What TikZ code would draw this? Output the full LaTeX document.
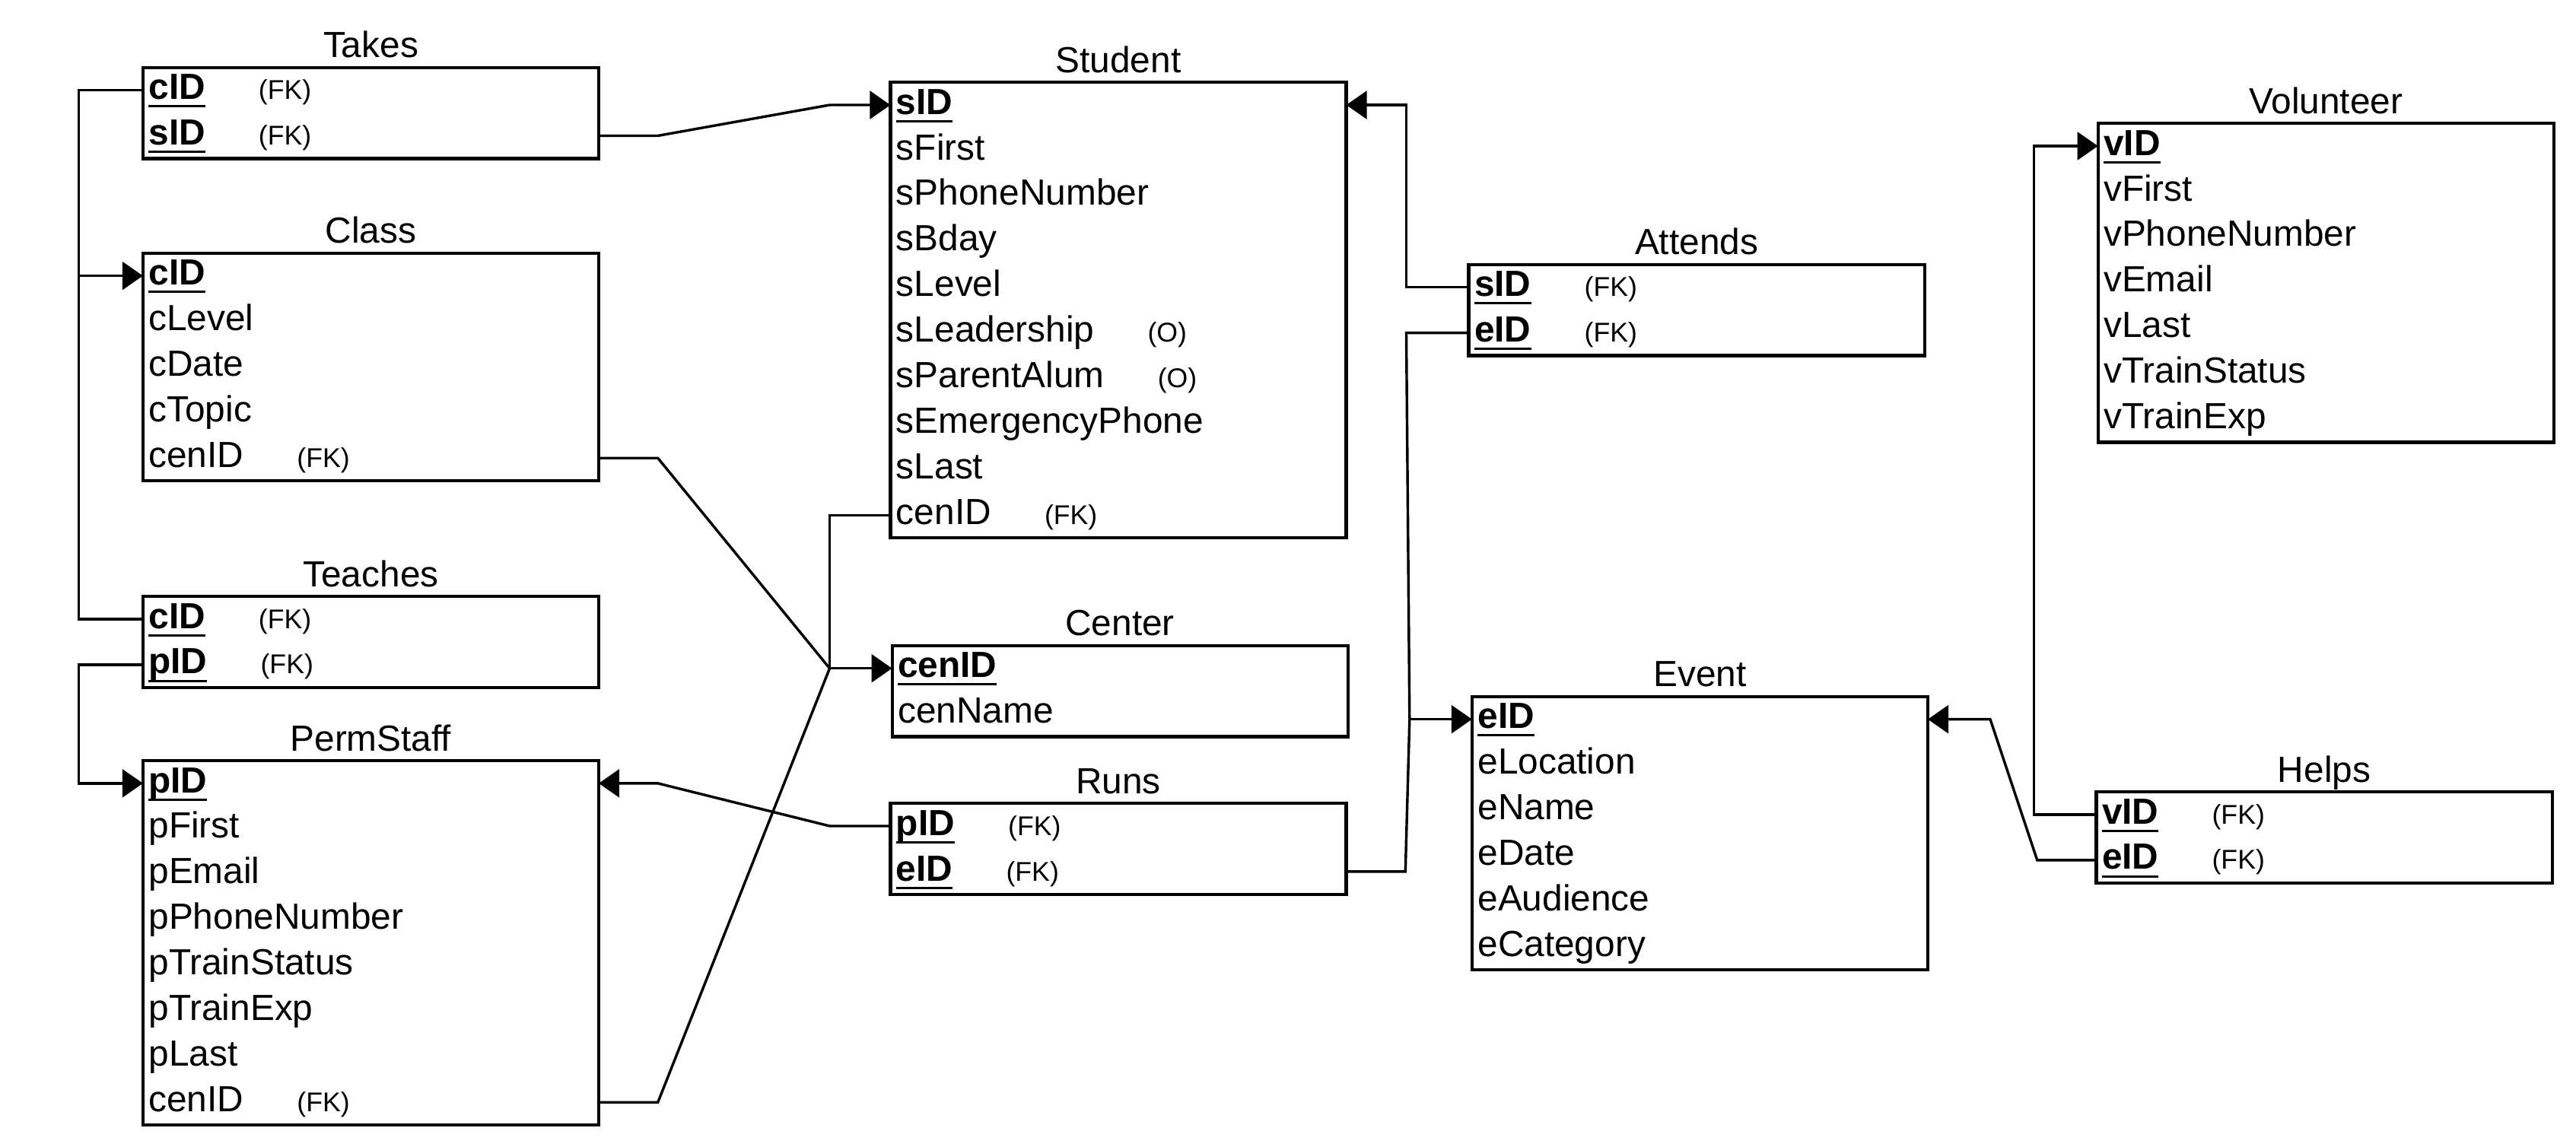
\documentclass[tikz,border=0pt]{standalone}
\usepackage{fontspec}
\setmainfont{Liberation Sans}
\usetikzlibrary{positioning,fit,calc,arrows.meta}

\newcommand{\pk}[1]{\setbox0\hbox{\textbf{#1}}\rlap{\rule[-2.8pt]{\wd0}{0.8pt}}\box0}
\newcommand{\fk}{\hspace{0.65cm}{\fontsize{9.4}{11}\selectfont (FK)}}
\newcommand{\opt}{\hspace{0.65cm}{\fontsize{9.4}{11}\selectfont (O)}}

\begin{document}
\begin{tikzpicture}[x=0.02cm, y=-0.02cm,
    font=\fontsize{12.6}{15}\selectfont,
    attr/.style={anchor=west, inner xsep=0.07cm, inner ysep=0pt, outer sep=0pt, text width=5.41cm,
      text height=10pt, text depth=3.6pt, minimum height=0.555cm},
    entity/.style={draw, line width=1.1pt, inner sep=0pt},
    title/.style={anchor=base},
    link/.style={line width=0.9pt},
    arr/.style={-{Triangle[length=0.25cm,width=0.34cm]}}]
    \useasboundingbox (0,0) rectangle (1568,698.3);

    % Takes
    \node[attr] (tk-cID) at (87,54.9) {\pk{cID}\fk};
    \node[attr, below=0pt of tk-cID] (tk-sID) {\pk{sID}\fk};
    \node[entity, fit=(tk-cID)(tk-sID)] (takes) {};
    \node[title] (takes-t) at ([yshift=0.1cm]takes.north) {Takes};

    % Class
    \node[attr] (cl-cID) at (87,167.9) {\pk{cID}};
    \node[attr, below=0pt of cl-cID] (cl-cLevel) {cLevel};
    \node[attr, below=0pt of cl-cLevel] (cl-cDate) {cDate};
    \node[attr, below=0pt of cl-cDate] (cl-cTopic) {cTopic};
    \node[attr, below=0pt of cl-cTopic] (cl-cenID) {cenID\fk};
    \node[entity, fit=(cl-cID)(cl-cenID)] (class) {};
    \node[title] (class-t) at ([yshift=0.1cm]class.north) {Class};

    % Teaches
    \node[attr] (te-cID) at (87,376.9) {\pk{cID}\fk};
    \node[attr, below=0pt of te-cID] (te-pID) {\pk{pID}\fk};
    \node[entity, fit=(te-cID)(te-pID)] (teaches) {};
    \node[title] (teaches-t) at ([yshift=0.1cm]teaches.north) {Teaches};

    % PermStaff
    \node[attr] (ps-pID) at (87,476.9) {\pk{pID}};
    \node[attr, below=0pt of ps-pID] (ps-pFirst) {pFirst};
    \node[attr, below=0pt of ps-pFirst] (ps-pEmail) {pEmail};
    \node[attr, below=0pt of ps-pEmail] (ps-pPhone) {pPhoneNumber};
    \node[attr, below=0pt of ps-pPhone] (ps-pStatus) {pTrainStatus};
    \node[attr, below=0pt of ps-pStatus] (ps-pExp) {pTrainExp};
    \node[attr, below=0pt of ps-pExp] (ps-pLast) {pLast};
    \node[attr, below=0pt of ps-pLast] (ps-cenID) {cenID\fk};
    \node[entity, fit=(ps-pID)(ps-cenID)] (permstaff) {};
    \node[title] (permstaff-t) at ([yshift=0.1cm]permstaff.north) {PermStaff};

    % Student
    \node[attr] (st-sID) at (542,63.9) {\pk{sID}};
    \node[attr, below=0pt of st-sID] (st-sFirst) {sFirst};
    \node[attr, below=0pt of st-sFirst] (st-sPhone) {sPhoneNumber};
    \node[attr, below=0pt of st-sPhone] (st-sBday) {sBday};
    \node[attr, below=0pt of st-sBday] (st-sLevel) {sLevel};
    \node[attr, below=0pt of st-sLevel] (st-sLead) {sLeadership\opt};
    \node[attr, below=0pt of st-sLead] (st-sAlum) {sParentAlum\opt};
    \node[attr, below=0pt of st-sAlum] (st-sEmerg) {sEmergencyPhone};
    \node[attr, below=0pt of st-sEmerg] (st-sLast) {sLast};
    \node[attr, below=0pt of st-sLast] (st-cenID) {cenID\fk};
    \node[entity, fit=(st-sID)(st-cenID)] (student) {};
    \node[title] (student-t) at ([yshift=0.1cm]student.north) {Student};

    % Center
    \node[attr] (ce-cenID) at (543,406.9) {\pk{cenID}};
    \node[attr, below=0pt of ce-cenID] (ce-cenName) {cenName};
    \node[entity, fit=(ce-cenID)(ce-cenName)] (center) {};
    \node[title] (center-t) at ([yshift=0.1cm]center.north) {Center};

    % Runs
    \node[attr] (ru-pID) at (542,502.9) {\pk{pID}\fk};
    \node[attr, below=0pt of ru-pID] (ru-eID) {\pk{eID}\fk};
    \node[entity, fit=(ru-pID)(ru-eID)] (runs) {};
    \node[title] (runs-t) at ([yshift=0.1cm]runs.north) {Runs};

    % Attends
    \node[attr] (at-sID) at (894,174.9) {\pk{sID}\fk};
    \node[attr, below=0pt of at-sID] (at-eID) {\pk{eID}\fk};
    \node[entity, fit=(at-sID)(at-eID)] (attends) {};
    \node[title] (attends-t) at ([yshift=0.1cm]attends.north) {Attends};

    % Event
    \node[attr] (ev-eID) at (896,437.9) {\pk{eID}};
    \node[attr, below=0pt of ev-eID] (ev-eLoc) {eLocation};
    \node[attr, below=0pt of ev-eLoc] (ev-eName) {eName};
    \node[attr, below=0pt of ev-eName] (ev-eDate) {eDate};
    \node[attr, below=0pt of ev-eDate] (ev-eAud) {eAudience};
    \node[attr, below=0pt of ev-eAud] (ev-eCat) {eCategory};
    \node[entity, fit=(ev-eID)(ev-eCat)] (event) {};
    \node[title] (event-t) at ([yshift=0.1cm]event.north) {Event};

    % Volunteer
    \node[attr] (vo-vID) at (1277,88.9) {\pk{vID}};
    \node[attr, below=0pt of vo-vID] (vo-vFirst) {vFirst};
    \node[attr, below=0pt of vo-vFirst] (vo-vPhone) {vPhoneNumber};
    \node[attr, below=0pt of vo-vPhone] (vo-vEmail) {vEmail};
    \node[attr, below=0pt of vo-vEmail] (vo-vLast) {vLast};
    \node[attr, below=0pt of vo-vLast] (vo-vStatus) {vTrainStatus};
    \node[attr, below=0pt of vo-vStatus] (vo-vExp) {vTrainExp};
    \node[entity, fit=(vo-vID)(vo-vExp)] (volunteer) {};
    \node[title] (volunteer-t) at ([yshift=0.1cm]volunteer.north) {Volunteer};

    % Helps
    \node[attr] (hp-vID) at (1276,495.9) {\pk{vID}\fk};
    \node[attr, below=0pt of hp-vID] (hp-eID) {\pk{eID}\fk};
    \node[entity, fit=(hp-vID)(hp-eID)] (helps) {};
    \node[title] (helps-t) at ([yshift=0.1cm]helps.north) {Helps};

    % Junctions
    \coordinate (cen-j) at ($(ce-cenID.west)+(-38,0)$);
    \coordinate (ev-j) at ($(ev-eID.west)+(-38,0)$);
    \coordinate (cl-j) at ($(tk-cID.west)+(-39,0)$);

    % Links
    \draw[link, arr] (tk-sID.east) -- ++(36,0) -- ($(st-sID.west)+(-37,0)$) -- (st-sID.west);
    \draw[link] (tk-cID.west) -- (cl-j) |- (te-cID.west);
    \draw[link, arr] (cl-j) |- (cl-cID.west);
    \draw[link, arr] (te-pID.west) -- ++(-39,0) |- (ps-pID.west);

    \draw[link] (cl-cenID.east) -- ++(36,0) -- (cen-j);
    \draw[link] (ps-cenID.east) -- ++(36,0) -- (cen-j);
    \draw[link] (st-cenID.west) -- ++(-37,0) -- (cen-j);
    \draw[link, arr] (cen-j) -- (ce-cenID.west);

    \draw[link, arr] (ru-pID.west) -- ++(-37,0) -- ($(ps-pID.east)+(36,0)$) -- (ps-pID.east);

    \draw[link] (ru-eID.east) -- ++(36,0) -- (ev-j);
    \draw[link] (at-eID.west) -- ++(-38,0) -- (ev-j);
    \draw[link, arr] (ev-j) -- (ev-eID.west);
    \draw[link, arr] (at-sID.west) -- ++(-38,0) |- (st-sID.east);

    \draw[link, arr] (hp-eID.west) -- ++(-36,0) -- ($(ev-eID.east)+(38,0)$) -- (ev-eID.east);
    \draw[link, arr] (hp-vID.west) -- ++(-38,0) |- (vo-vID.west);
\end{tikzpicture}
\end{document}
